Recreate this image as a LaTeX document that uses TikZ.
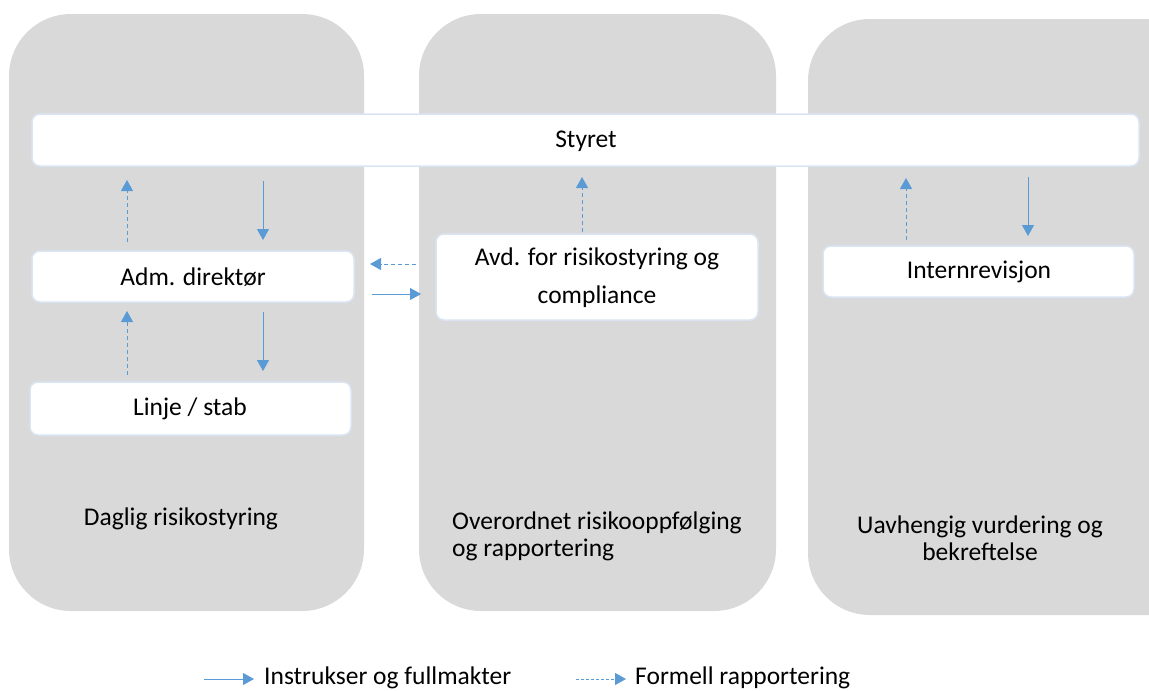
\documentclass[tikz,border=0pt]{standalone}
\usepackage{fontspec}
\setmainfont{Carlito}
\usetikzlibrary{arrows.meta}
\definecolor{panelgray}{HTML}{D9D9D9}
\definecolor{boxline}{HTML}{DAE5F3}
\definecolor{arrowblue}{HTML}{5B9BD5}
\tikzset{
  panel/.style={fill=panelgray, draw=none, rounded corners=62pt},
  wbox/.style={fill=white, draw=boxline, line width=1.5pt, rounded corners=8pt},
  lbl/.style={font=\fontsize{25.5}{27}\selectfont, text=black, inner sep=0pt},
  solidarr/.style={draw=arrowblue, line width=1pt, -{Triangle[length=11pt,width=12pt]}},
  dasharr/.style={draw=arrowblue, line width=1pt, dash pattern=on 4pt off 3pt, -{Triangle[length=11pt,width=12pt]}},
}
\begin{document}
\begin{tikzpicture}[x=1pt,y=-1pt]
\useasboundingbox (0,0) rectangle (1149,691);
\clip (0,0) rectangle (1149,691);
% panels
\path[panel] (9,14) rectangle (364,611);
\path[panel] (419,14) rectangle (776,611);
\path[panel] (808,19) rectangle (1215,615);
% boxes
\draw[wbox] (32,114) rectangle (1139,166);
\node[lbl] (styret) at (586,141) {Styret};
\draw[wbox] (32,251) rectangle (354,302);
\node[lbl] (adm) at (193,277) {Adm. direktør};
\draw[wbox] (30,382) rectangle (351,435);
\node[lbl] (linje) at (190,409) {Linje / stab};
\draw[wbox] (436,234) rectangle (758,320);
\node[lbl, align=center, font=\fontsize{25.5}{38}\selectfont] (avd) at (597,278) {Avd. for risikostyring og\\compliance};
\draw[wbox] (823,246) rectangle (1134,297);
\node[lbl] (intern) at (979,272) {Internrevisjon};
% panel labels
\node[lbl] (daglig) at (181,519) {Daglig risikostyring};
\node[lbl, align=left, anchor=west] (overord) at (452,536) {Overordnet risikooppfølging\\og rapportering};
\node[lbl, align=center] (uavh) at (980,538) {Uavhengig vurdering og\\bekreftelse};
% arrow endpoints
\coordinate (a1s) at (127,242); \coordinate (a1e) at (127,180);
\coordinate (a2s) at (263,181); \coordinate (a2e) at (263,240);
\coordinate (a3s) at (127,375); \coordinate (a3e) at (127,311);
\coordinate (a4s) at (263,312); \coordinate (a4e) at (263,371);
\coordinate (a5s) at (582,232); \coordinate (a5e) at (582,177);
\coordinate (a6s) at (416,264); \coordinate (a6e) at (370,264);
\coordinate (a7s) at (372,294); \coordinate (a7e) at (421,294);
\coordinate (a8s) at (906,240); \coordinate (a8e) at (906,178);
\coordinate (a9s) at (1028,177); \coordinate (a9e) at (1028,236);
\draw[dasharr] (a1s) -- (a1e);
\draw[solidarr] (a2s) -- (a2e);
\draw[dasharr] (a3s) -- (a3e);
\draw[solidarr] (a4s) -- (a4e);
\draw[dasharr] (a5s) -- (a5e);
\draw[dasharr] (a6s) -- (a6e);
\draw[solidarr] (a7s) -- (a7e);
\draw[dasharr] (a8s) -- (a8e);
\draw[solidarr] (a9s) -- (a9e);
% legend
\coordinate (l1s) at (204,679); \coordinate (l1e) at (254,679);
\coordinate (l2s) at (576,679); \coordinate (l2e) at (626,679);
\draw[solidarr] (l1s) -- (l1e);
\node[lbl, anchor=west] (leg1) at (264,678) {Instrukser og fullmakter};
\draw[dasharr, dash pattern=on 3pt off 2pt] (l2s) -- (l2e);
\node[lbl, anchor=west] (leg2) at (635,678) {Formell rapportering};
\end{tikzpicture}
\end{document}
